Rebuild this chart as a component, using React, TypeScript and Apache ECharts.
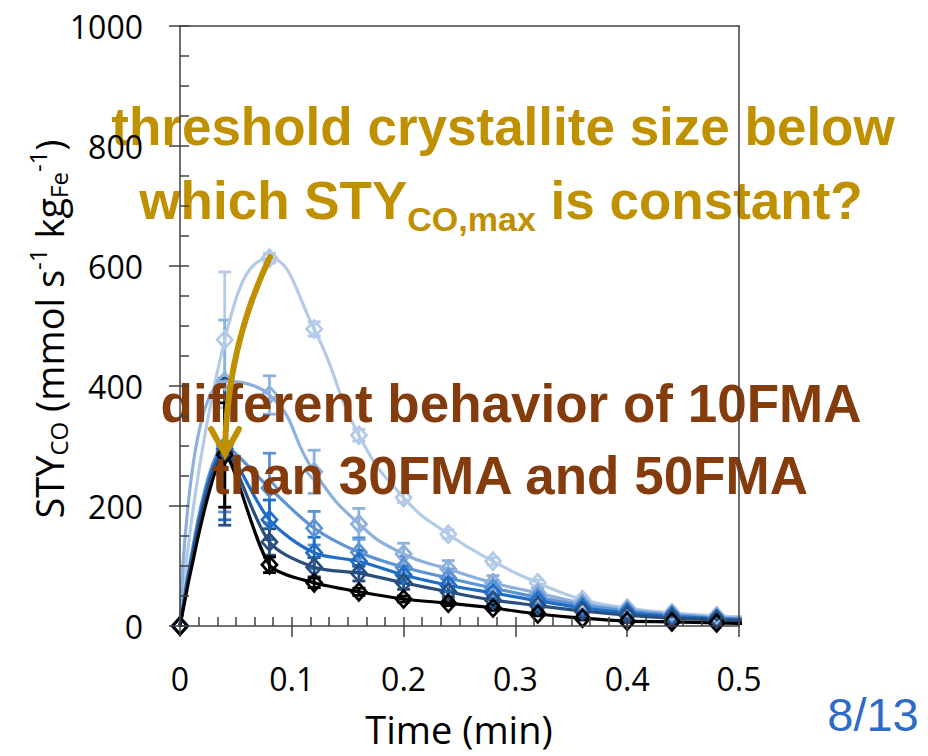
import React, { useEffect, useRef } from "react";
import * as echarts from "echarts";

// Sampling times (min); the last point lies past the axis end so the lines run to the frame
const times = [0, 0.04, 0.08, 0.12, 0.16, 0.2, 0.24, 0.28, 0.32, 0.36, 0.4, 0.44, 0.48, 0.52];

// STY_CO (mmol s-1 kgFe-1), lightest to darkest curve
const styA = [0, 477, 613, 495, 318, 214, 153, 108, 72, 44, 30, 22, 17, 14];
const styB = [0, 408, 385, 257, 170, 120, 95, 72, 55, 38, 27, 20, 15, 12];
const styC = [0, 300, 230, 163, 123, 98, 80, 63, 48, 34, 25, 18, 13, 11];
const styD = [0, 295, 177, 122, 108, 85, 68, 55, 42, 30, 22, 16, 12, 10];
const styE = [0, 290, 140, 98, 88, 72, 57, 43, 34, 25, 18, 13, 10, 8];
const styF = [0, 285, 102, 72, 57, 45, 38, 30, 20, 13, 8, 7, 5, 4];

// Half-widths of the error bars at each sampling time up to 0.48 min
const errA = [0, 113, 8, 12, 10, 8, 7, 6, 5, 4, 3, 3, 2];
const errB = [0, 102, 32, 36, 26, 18, 14, 12, 9, 7, 5, 4, 3];
const errC = [0, 110, 58, 28, 24, 18, 15, 12, 9, 7, 5, 4, 3];
const errD = [0, 118, 33, 26, 18, 14, 11, 9, 7, 6, 5, 4, 3];
const errE = [0, 122, 22, 16, 13, 11, 9, 7, 6, 5, 4, 3, 3];
const errF = [0, 87, 13, 8, 6, 5, 4, 4, 3, 3, 2, 2, 2];

const colors = ["#b4cbe8", "#8eb0dc", "#5d92d3", "#1f6dc6", "#2a4f7d", "#000000"];
const smoothness = [0.5, 0.5, 0.3, 0.3, 0.3, 0.25];

const xTicks = [0, 0.1, 0.2, 0.3, 0.4, 0.5];

const GOLD = "#bf9000";
const BROWN = "#843c0c";
const AXIS = "#404040";
const LABEL_FONT = "'Open Sans', 'Noto Sans', sans-serif";
const NOTE_FONT = "'Liberation Sans', Arial, sans-serif";

function errorBars(values: number[], errs: number[], color: string) {
  const data = errs
    .map((e, i) => [times[i], values[i] - e, values[i] + e])
    .filter((d) => d[2] > d[1]);
  return {
    type: "custom",
    data,
    encode: { x: 0, y: [1, 2] },
    silent: true,
    z: 2,
    renderItem: (_params: any, api: any) => {
      const x = api.value(0);
      const lo = api.coord([x, api.value(1)]);
      const hi = api.coord([x, api.value(2)]);
      const w = 6.5;
      const style = { stroke: color, lineWidth: 2.8 };
      return {
        type: "group",
        children: [
          { type: "line", shape: { x1: lo[0], y1: lo[1], x2: hi[0], y2: hi[1] }, style },
          { type: "line", shape: { x1: lo[0] - w, y1: lo[1], x2: lo[0] + w, y2: lo[1] }, style },
          { type: "line", shape: { x1: hi[0] - w, y1: hi[1], x2: hi[0] + w, y2: hi[1] }, style },
        ],
      };
    },
  };
}

function curve(values: number[], color: string, smooth: number) {
  return {
    type: "line",
    data: times.map((t, i) => [t, values[i]]),
    smooth,
    symbol: "diamond",
    symbolSize: [15, 17],
    showAllSymbol: true,
    clip: true,
    z: 2,
    lineStyle: { color, width: 3.2 },
    itemStyle: { color: "rgba(255,255,255,0)", borderColor: color, borderWidth: 2.8 },
  };
}

const allValues = [styA, styB, styC, styD, styE, styF];
const allErrs = [errA, errB, errC, errD, errE, errF];

function buildOption() {
  const series: any[] = [];
  allValues.forEach((vals, k) => {
    series.push(errorBars(vals, allErrs[k], colors[k]));
    series.push(curve(vals, colors[k], smoothness[k]));
  });

  const tickLine = { color: AXIS, width: 1.5 };

  return {
    animation: false,
    backgroundColor: "#ffffff",
    grid: { left: 180, right: 189, top: 26, bottom: 130 },
    xAxis: [
      {
        type: "value",
        min: 0,
        max: 0.5,
        interval: 0.1,
        position: "bottom",
        z: 50,
        axisLine: { show: true, onZero: false, lineStyle: { color: AXIS, width: 1.5 } },
        axisTick: { show: true, inside: false, length: 11, lineStyle: tickLine },
        axisLabel: {
          margin: 36,
          fontSize: 32,
          fontFamily: LABEL_FONT,
          color: "#000",
          formatter: (v: number) => {
            const hit = xTicks.find((t) => Math.abs(t - v) < 1e-9);
            return hit === 0 ? "0" : (hit ?? v).toFixed(1);
          },
        },
        splitLine: { show: false },
      },
      {
        type: "value",
        min: 0,
        max: 0.5,
        interval: 1 / 60,
        position: "bottom",
        z: 50,
        axisLine: { show: false, onZero: false },
        axisTick: { show: true, inside: true, length: 9, lineStyle: tickLine },
        axisLabel: { show: false },
        splitLine: { show: false },
      },
      {
        type: "value",
        min: 0,
        max: 0.5,
        position: "top",
        z: 50,
        axisLine: { show: true, onZero: false, lineStyle: { color: AXIS, width: 1.5 } },
        axisTick: { show: false },
        axisLabel: { show: false },
        splitLine: { show: false },
      },
    ],
    yAxis: [
      {
        type: "value",
        min: 0,
        max: 1000,
        interval: 200,
        position: "left",
        z: 50,
        axisLine: { show: true, onZero: false, lineStyle: { color: AXIS, width: 1.5 } },
        axisTick: { show: true, inside: false, length: 11, lineStyle: tickLine },
        axisLabel: {
          margin: 37,
          fontSize: 32,
          fontFamily: LABEL_FONT,
          color: "#000",
          formatter: (v: number) => String(Math.round(v)),
        },
        splitLine: { show: false },
      },
      {
        type: "value",
        min: 0,
        max: 1000,
        interval: 50,
        position: "left",
        z: 50,
        axisLine: { show: false, onZero: false },
        axisTick: { show: true, inside: true, length: 9, lineStyle: tickLine },
        axisLabel: { show: false },
        splitLine: { show: false },
      },
      {
        type: "value",
        min: 0,
        max: 1000,
        position: "right",
        z: 50,
        axisLine: { show: true, onZero: false, lineStyle: { color: AXIS, width: 1.5 } },
        axisTick: { show: false },
        axisLabel: { show: false },
        splitLine: { show: false },
      },
    ],
    series,
    graphic: [
      {
        type: "text",
        x: 49,
        y: 329,
        rotation: Math.PI / 2,
        z: 60,
        style: {
          text:
            "{m|STY}{sub|CO}{m|\u00a0(mmol s}{sup|-1}{m|\u00a0kg}{sub|Fe}{sup|-1}{m|)}",
          align: "center",
          verticalAlign: "middle",
          fill: "#000",
          rich: {
            m: { fontSize: 38, fontFamily: LABEL_FONT, fill: "#000" },
            sub: { fontSize: 24, fontFamily: LABEL_FONT, fill: "#000", padding: [18, 0, 0, 0] },
            sup: { fontSize: 24, fontFamily: LABEL_FONT, fill: "#000", padding: [0, 0, 24, 0] },
          },
        },
      },
      {
        type: "text",
        x: 459,
        y: 729,
        z: 60,
        style: {
          text: "Time (min)",
          align: "center",
          verticalAlign: "middle",
          fontSize: 38,
          fontFamily: LABEL_FONT,
          fill: "#000",
        },
      },
      {
        type: "text",
        x: 873,
        y: 714,
        z: 60,
        style: {
          text: "8/13",
          align: "center",
          verticalAlign: "middle",
          fontSize: 47,
          fontFamily: NOTE_FONT,
          fill: "#2e6bc6",
        },
      },
      {
        type: "text",
        x: 503,
        y: 126,
        z: 10,
        style: {
          text: "threshold crystallite size below",
          align: "center",
          verticalAlign: "middle",
          fontSize: 53,
          fontWeight: "bold",
          fontFamily: NOTE_FONT,
          fill: GOLD,
        },
      },
      {
        type: "text",
        x: 501,
        y: 200,
        z: 10,
        style: {
          text: "{b|which STY}{s|CO,max}{b|\u00a0is constant?}",
          align: "center",
          verticalAlign: "middle",
          fill: GOLD,
          rich: {
            b: { fontSize: 53, fontWeight: "bold", fontFamily: NOTE_FONT, fill: GOLD },
            s: {
              fontSize: 34,
              fontWeight: "bold",
              fontFamily: NOTE_FONT,
              fill: GOLD,
              padding: [37, 0, 0, 0],
            },
          },
        },
      },
      {
        type: "text",
        x: 511,
        y: 403,
        z: 10,
        style: {
          text: "different behavior of 10FMA",
          align: "center",
          verticalAlign: "middle",
          fontSize: 53,
          fontWeight: "bold",
          fontFamily: NOTE_FONT,
          fill: BROWN,
        },
      },
      {
        type: "text",
        x: 510,
        y: 475,
        z: 10,
        style: {
          text: "than 30FMA and 50FMA",
          align: "center",
          verticalAlign: "middle",
          fontSize: 53,
          fontWeight: "bold",
          fontFamily: NOTE_FONT,
          fill: BROWN,
        },
      },
      {
        type: "bezierCurve",
        z: 12,
        shape: { x1: 270, y1: 257, cpx1: 240, cpy1: 320, cpx2: 226, cpy2: 385, x2: 225, y2: 452 },
        style: { stroke: GOLD, lineWidth: 6, fill: null, lineCap: "round" },
      },
      {
        type: "polyline",
        z: 12,
        shape: {
          points: [
            [211, 429],
            [225, 454],
            [239, 429],
          ],
        },
        style: { stroke: GOLD, lineWidth: 6, fill: null, lineCap: "round", lineJoin: "miter" },
      },
    ],
  };
}

export default function App() {
  const ref = useRef<HTMLDivElement>(null);
  useEffect(() => {
    if (!ref.current) return;
    const chart = echarts.init(ref.current, null, { renderer: "svg" });
    chart.setOption(buildOption() as any);
    return () => chart.dispose();
  }, []);
  return (
    <div
      ref={ref}
      style={{ position: "absolute", left: 0, top: 0, width: 928, height: 756, background: "#fff" }}
    />
  );
}
